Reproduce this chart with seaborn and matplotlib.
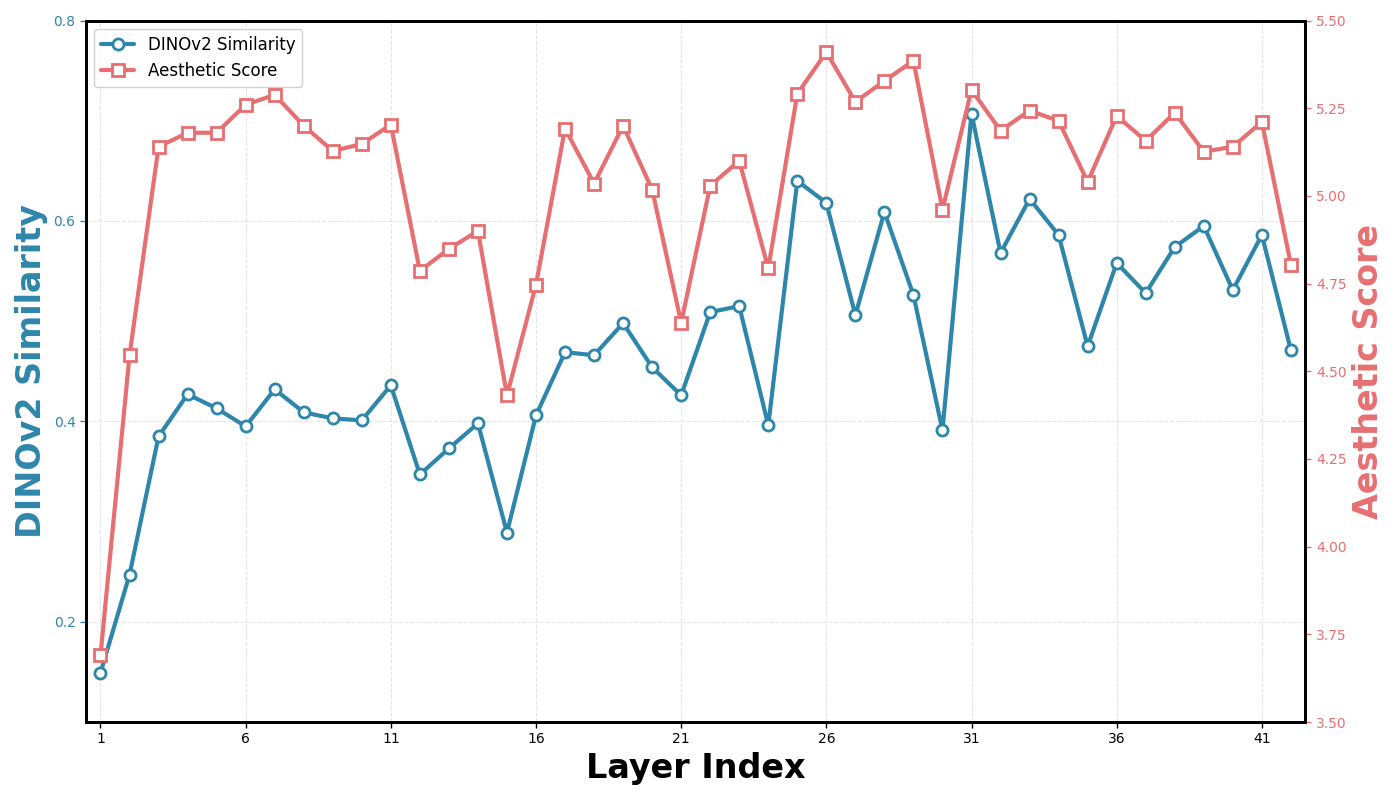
import matplotlib
matplotlib.use("Agg")
import matplotlib.pyplot as plt
import seaborn as sns
import pandas as pd

BLUE = "#2E86AB"
RED = "#E76F71"

layers = list(range(1, 43))

dino_similarity = [
    0.149, 0.247, 0.385, 0.427, 0.413, 0.395, 0.432, 0.409, 0.403, 0.401,
    0.436, 0.347, 0.373, 0.398, 0.289, 0.406, 0.469, 0.466, 0.498, 0.454,
    0.426, 0.509, 0.515, 0.396, 0.640, 0.618, 0.506, 0.609, 0.526, 0.391,
    0.707, 0.568, 0.622, 0.586, 0.475, 0.558, 0.528, 0.574, 0.595, 0.531,
    0.586, 0.471,
]

aesthetic_score = [
    3.690, 4.545, 5.140, 5.180, 5.180, 5.260, 5.288, 5.200, 5.128, 5.148,
    5.203, 4.786, 4.849, 4.900, 4.431, 4.747, 5.192, 5.035, 5.200, 5.018,
    4.638, 5.029, 5.100, 4.793, 5.291, 5.410, 5.268, 5.328, 5.385, 4.961,
    5.302, 5.186, 5.243, 5.214, 5.040, 5.228, 5.157, 5.237, 5.126, 5.140,
    5.211, 4.804,
]

xticks = [1, 6, 11, 16, 21, 26, 31, 36, 41]

df = pd.DataFrame({"layer": layers, "dino": dino_similarity, "aes": aesthetic_score})

sns.set_style("white")
plt.rcParams["font.family"] = "DejaVu Sans"
plt.rcParams["text.color"] = "black"
plt.rcParams["axes.labelcolor"] = "black"
plt.rcParams["xtick.color"] = "black"

fig, ax = plt.subplots(figsize=(14, 8), dpi=100)
ax2 = ax.twinx()

sns.lineplot(data=df, x="layer", y="dino", ax=ax, color=BLUE, linewidth=3,
             marker="o", markersize=8, markerfacecolor="white",
             markeredgecolor=BLUE, markeredgewidth=2, label="DINOv2 Similarity",
             legend=False)
sns.lineplot(data=df, x="layer", y="aes", ax=ax2, color=RED, linewidth=3,
             marker="s", markersize=8, markerfacecolor="white",
             markeredgecolor=RED, markeredgewidth=2, label="Aesthetic Score",
             legend=False)

ax.set_xlim(0.5, 42.5)
ax.set_ylim(0.1, 0.8)
ax2.set_ylim(3.5, 5.5)
ax.set_xticks(xticks)
ax.set_yticks([0.2, 0.4, 0.6, 0.8])

ax.set_xlabel("Layer Index", fontsize=24, fontweight="bold", color="black")
ax.set_ylabel("DINOv2 Similarity", fontsize=24, fontweight="bold", color=BLUE)
ax2.set_ylabel("Aesthetic Score", fontsize=24, fontweight="bold", color=RED)

ax.tick_params(axis="y", colors=BLUE, labelsize=10, length=4, width=1, left=True)
ax.tick_params(axis="x", colors="black", labelsize=10, length=4, width=1, bottom=True)
ax2.tick_params(axis="y", colors=RED, labelsize=10, length=4, width=1, right=True)
for a in (ax, ax2):
    for s in a.spines.values():
        s.set_color("black")
        s.set_linewidth(2)

ax.grid(True, linestyle="--", color="#cccccc", alpha=0.5, linewidth=0.8)
ax.set_axisbelow(True)

h1, l1 = ax.get_legend_handles_labels()
h2, l2 = ax2.get_legend_handles_labels()
leg = ax.legend(h1 + h2, l1 + l2, loc="upper left", fontsize=12, framealpha=0.9)
for t in leg.get_texts():
    t.set_color("black")

fig.tight_layout()
fig.savefig("out.png", dpi=100)
